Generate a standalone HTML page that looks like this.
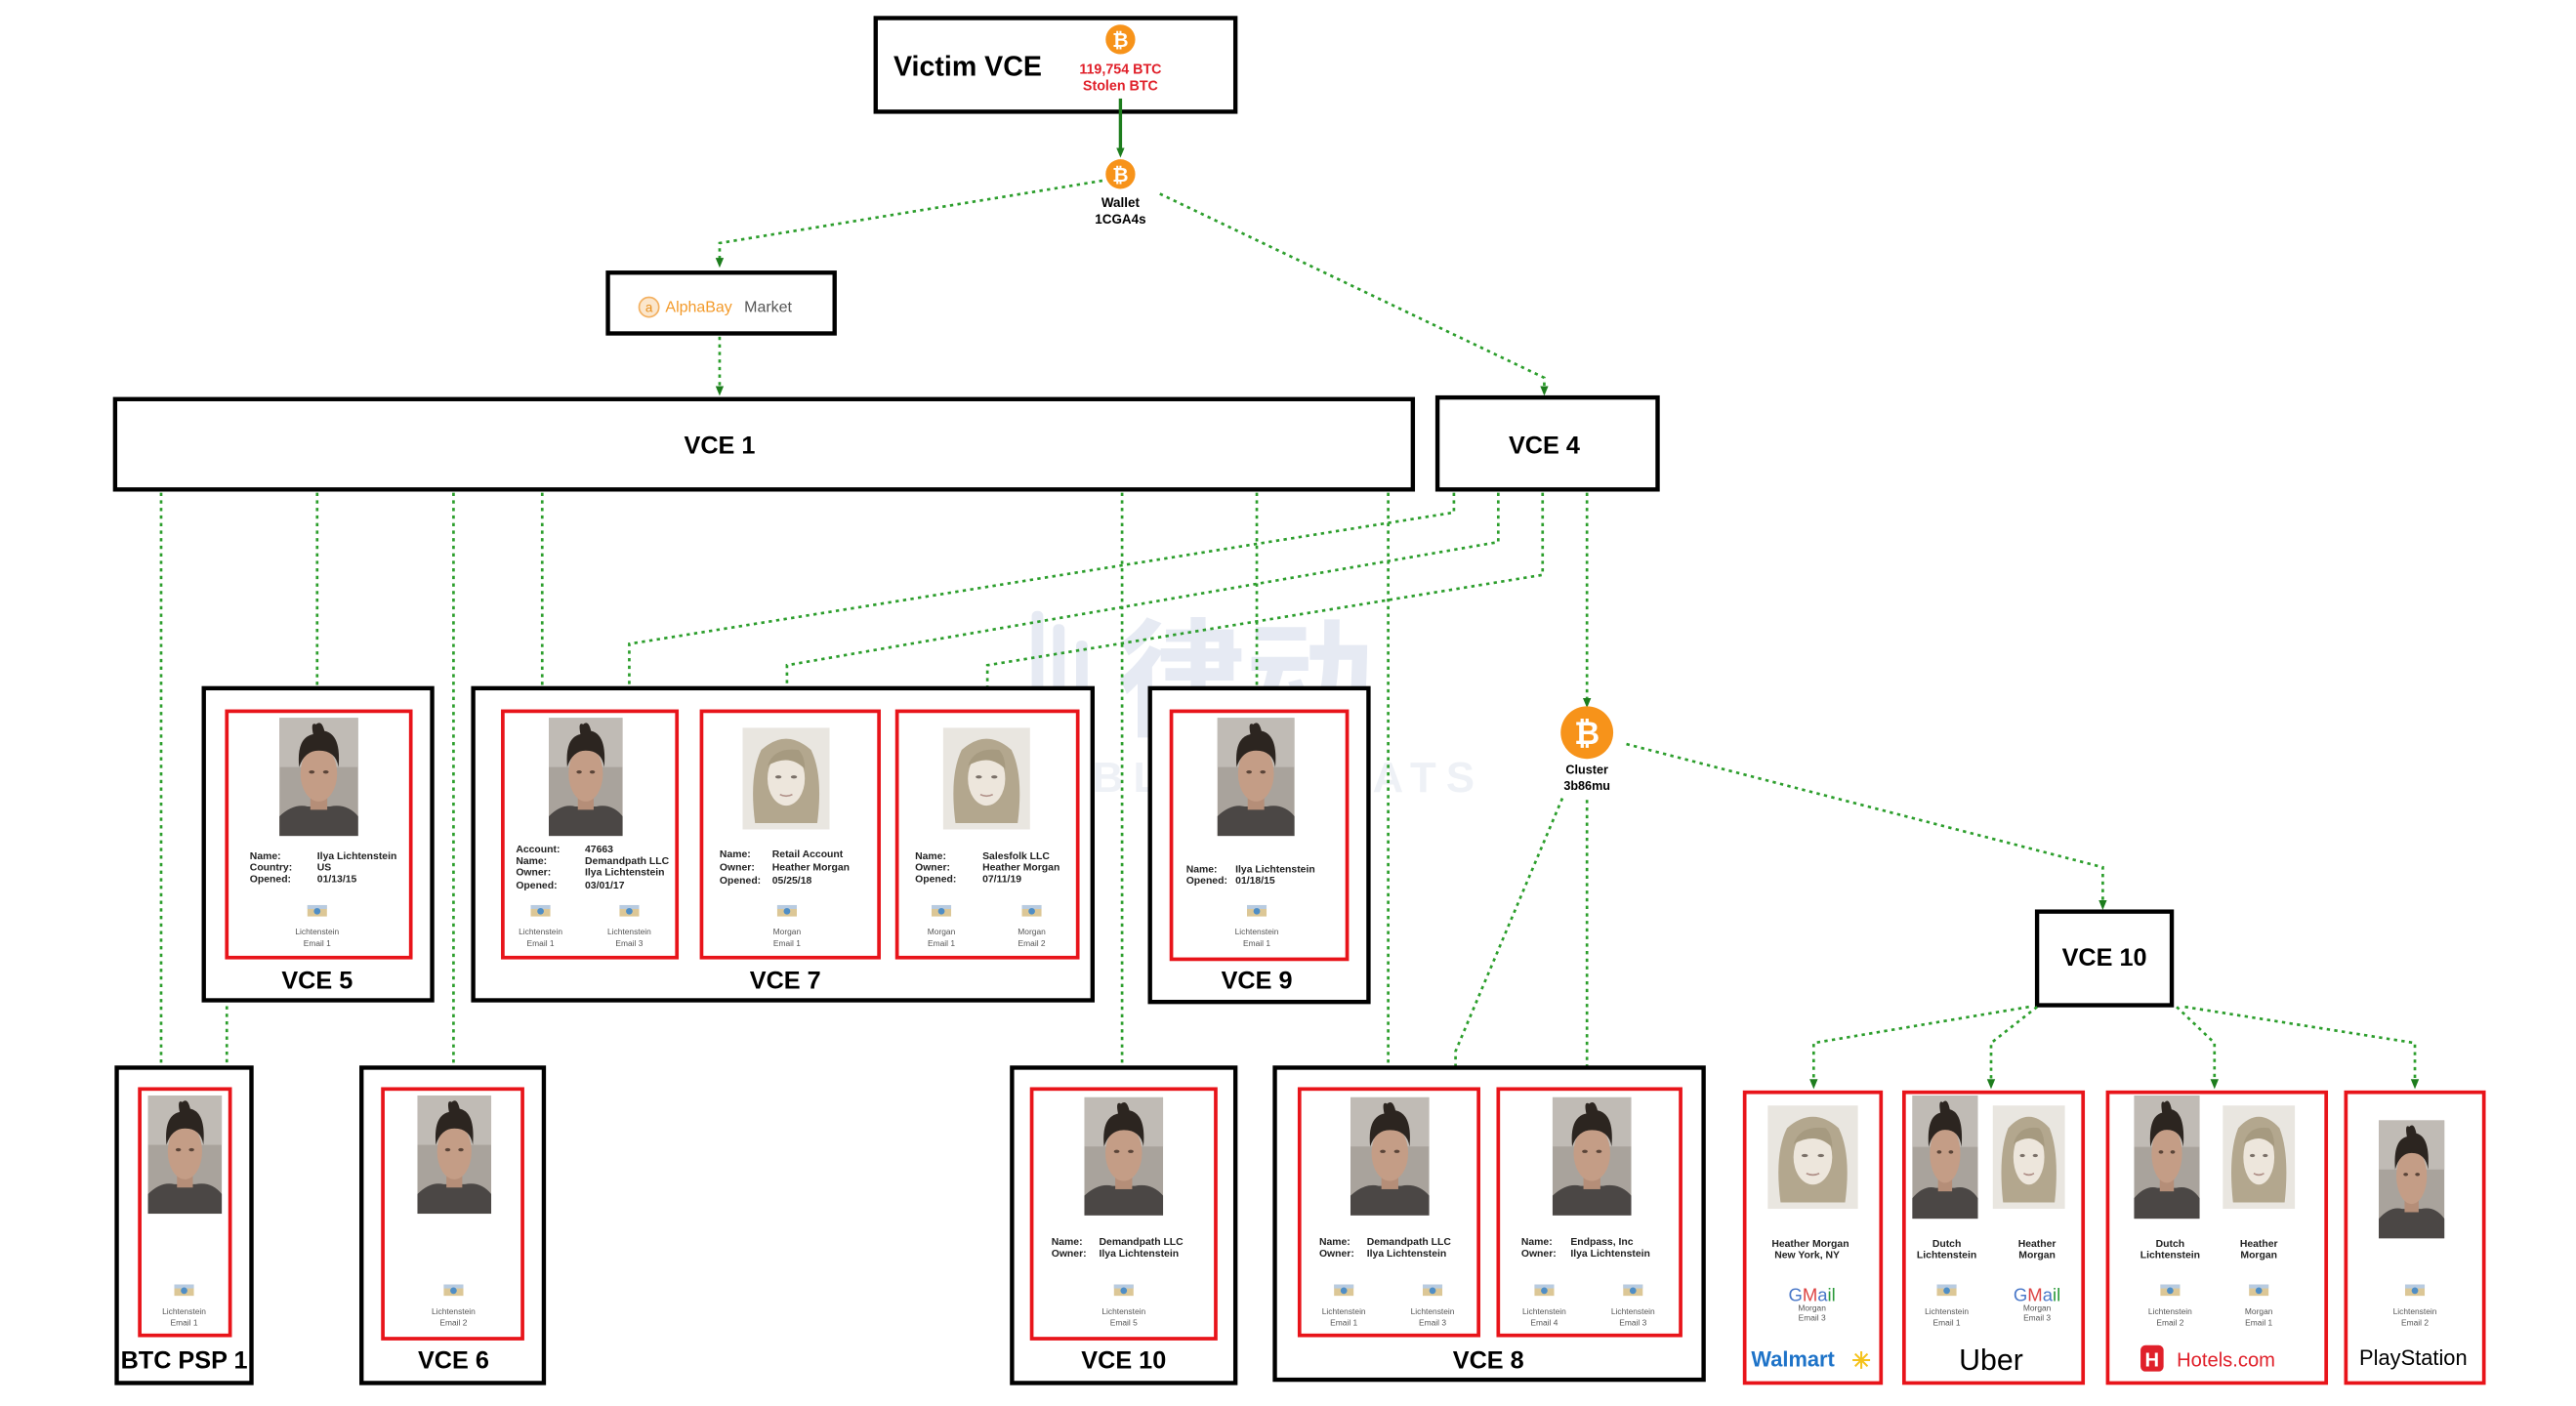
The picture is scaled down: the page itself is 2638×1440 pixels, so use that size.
<!DOCTYPE html>
<html><head><meta charset="utf-8"><style>
html,body{margin:0;padding:0;background:#fff;}
svg{display:block;}
text{font-family:"Liberation Sans","Noto Sans CJK SC",sans-serif;}
.b{font-weight:bold;}
.s{font-size:6.2px;fill:#222;font-weight:bold;}
.e{font-size:5px;fill:#555;}
.lab{font-size:15px;font-weight:bold;fill:#000;text-anchor:middle;}
.d{fill:none;stroke:#2c9e2c;stroke-width:1.6;stroke-dasharray:2 2.6;}
.ob{fill:#fff;stroke:#000;stroke-width:2.6;}
.rc{fill:#fff;stroke:#e8141a;stroke-width:2.2;}
</style></head><body>
<svg width="2638" height="1440" viewBox="0 0 1568 856" xmlns="http://www.w3.org/2000/svg">
<defs>
<marker id="ar" markerWidth="6" markerHeight="6" refX="3" refY="3" orient="auto" markerUnits="userSpaceOnUse"><path d="M0,0.5 L6,3 L0,5.5z" fill="#1d7d1d"/></marker>
<symbol id="man" viewBox="0 0 56 72" preserveAspectRatio="none">
<rect width="56" height="72" fill="#a9a39c"/>
<rect width="56" height="30" fill="#c0bbb5"/>
<path d="M0,72 L0,60 Q10,52 20,54 L36,54 Q48,52 56,60 L56,72z" fill="#4b4745"/>
<rect x="22" y="44" width="12" height="12" fill="#b58e78"/>
<ellipse cx="28" cy="34" rx="13" ry="17" fill="#c49d86"/>
<path d="M14,30 Q12,12 24,10 Q22,2 26,4 Q30,1 32,8 Q44,10 42,30 Q40,20 28,20 Q18,20 14,30z" fill="#2c2520"/>
<ellipse cx="23" cy="33" rx="2" ry="1" fill="#5a4438"/><ellipse cx="33" cy="33" rx="2" ry="1" fill="#5a4438"/>
</symbol>
<symbol id="wom" viewBox="0 0 56 64" preserveAspectRatio="none">
<rect width="56" height="64" fill="#e9e6e0"/>
<path d="M8,60 Q4,30 12,14 Q28,0 44,14 Q52,30 48,60z" fill="#b3a78e"/>
<ellipse cx="28" cy="32" rx="12" ry="17" fill="#ede6dc"/>
<path d="M16,24 Q20,12 36,14 Q40,18 40,26 Q30,16 16,24z" fill="#a69a80"/>
<ellipse cx="23" cy="31" rx="2" ry="1" fill="#7a7068"/><ellipse cx="33" cy="31" rx="2" ry="1" fill="#7a7068"/>
<path d="M24,42 Q28,44 32,42" stroke="#b09088" fill="none" stroke-width="1"/>
</symbol>
<symbol id="em" viewBox="0 0 12 7"><rect width="12" height="7" fill="#dcc796"/><rect x="0" y="0" width="12" height="2.4" fill="#b8cbe0"/><circle cx="6" cy="3.8" r="2" fill="#4f8ec6"/></symbol>
</defs>

<g fill="#e6eaf3">
<rect x="628" y="372" width="7" height="60" rx="3"/><rect x="641" y="380" width="7" height="52" rx="3"/><rect x="655" y="390" width="7" height="42" rx="3"/>
<text x="680" y="442" font-size="78" font-weight="bold" fill="#e6eaf3">律动</text>
<text x="665" y="482" font-size="26" font-weight="bold" fill="#eef1f6" letter-spacing="6">BLOCKBEATS</text>
</g>

<rect x="533" y="11" width="219" height="57" class="ob" stroke-width="3"/>
<text x="589" y="46" font-size="17" class="b" text-anchor="middle">Victim VCE</text>
<circle cx="682" cy="24" r="9" fill="#f7931a"/><text x="682" y="28.5" font-size="12" fill="#fff" class="b" text-anchor="middle">₿</text>
<text x="682" y="45" font-size="8.5" fill="#e0202a" class="b" text-anchor="middle">119,754 BTC</text>
<text x="682" y="55" font-size="8.5" fill="#e0202a" class="b" text-anchor="middle">Stolen BTC</text>
<line x1="682" y1="60" x2="682" y2="93" stroke="#1d7d1d" stroke-width="2" marker-end="url(#ar)"/>
<circle cx="682" cy="106" r="9" fill="#f7931a"/><text x="682" y="110.5" font-size="12" fill="#fff" class="b" text-anchor="middle">₿</text>
<text x="682" y="126" font-size="8" class="b" text-anchor="middle">Wallet</text>
<text x="682" y="136" font-size="8" class="b" text-anchor="middle">1CGA4s</text>

<polyline points="671,110 438,148 438,160" class="d" marker-end="url(#ar)"/>
<polyline points="706,118 940,230 940,238" class="d" marker-end="url(#ar)"/>

<rect x="370" y="166" width="138" height="37" class="ob"/>
<circle cx="395" cy="187" r="6" fill="#fbe6cc" stroke="#f3b060" stroke-width="1"/><text x="395" y="190" font-size="8" fill="#e8901e" text-anchor="middle">a</text>
<text x="405" y="190" font-size="9.5" fill="#f39a2a">AlphaBay</text><text x="453" y="190" font-size="9.5" fill="#555">Market</text>
<line x1="438" y1="205" x2="438" y2="238" class="d" marker-end="url(#ar)"/>

<rect x="70" y="243" width="790" height="55" class="ob" stroke-width="3"/>
<text x="438" y="276" class="lab">VCE 1</text>
<rect x="875" y="242" width="134" height="56" class="ob" stroke-width="3"/>
<text x="940" y="276" class="lab">VCE 4</text>

<line x1="98" y1="300" x2="98" y2="660" class="d" marker-end="url(#ar)"/>
<line x1="193" y1="300" x2="193" y2="430" class="d" marker-end="url(#ar)"/>
<line x1="276" y1="300" x2="276" y2="660" class="d" marker-end="url(#ar)"/>
<line x1="330" y1="300" x2="330" y2="430" class="d" marker-end="url(#ar)"/>
<line x1="683" y1="300" x2="683" y2="660" class="d" marker-end="url(#ar)"/>
<line x1="765" y1="300" x2="765" y2="430" class="d" marker-end="url(#ar)"/>
<line x1="845" y1="300" x2="845" y2="660" class="d" marker-end="url(#ar)"/>
<line x1="138" y1="585" x2="138" y2="660" class="d" marker-end="url(#ar)"/>

<polyline points="885,300 885,312 383,392 383,430" class="d" marker-end="url(#ar)"/>
<polyline points="912,300 912,330 479,405 479,430" class="d" marker-end="url(#ar)"/>
<polyline points="939,300 939,350 601,405 601,430" class="d" marker-end="url(#ar)"/>
<line x1="966" y1="300" x2="966" y2="428" class="d" marker-end="url(#ar)"/>

<circle cx="966" cy="446" r="16" fill="#f7931a"/><text x="966" y="453" font-size="19" fill="#fff" class="b" text-anchor="middle">₿</text>
<text x="966" y="471" font-size="7.5" class="b" text-anchor="middle">Cluster</text>
<text x="966" y="481" font-size="7.5" class="b" text-anchor="middle">3b86mu</text>
<polyline points="990,453 1280,528 1280,551" class="d" marker-end="url(#ar)"/>
<polyline points="951,486 886,640 886,660" class="d" marker-end="url(#ar)"/>
<line x1="966" y1="487" x2="966" y2="660" class="d" marker-end="url(#ar)"/>

<rect x="1240" y="555" width="82" height="57" class="ob" stroke-width="3"/>
<text x="1281" y="588" class="lab">VCE 10</text>
<polyline points="1235,613 1104,635 1104,660" class="d" marker-end="url(#ar)"/>
<polyline points="1240,613 1212,635 1212,660" class="d" marker-end="url(#ar)"/>
<polyline points="1325,613 1348,635 1348,660" class="d" marker-end="url(#ar)"/>
<polyline points="1330,613 1470,635 1470,660" class="d" marker-end="url(#ar)"/>

<rect x="124" y="419" width="139" height="190" class="ob"/>
<rect x="138" y="433" width="112" height="150" class="rc"/>
<use href="#man" x="170" y="437" width="48" height="72"/>
<text class="s" x="152" y="523">Name:</text><text class="s" x="193" y="523">Ilya Lichtenstein</text>
<text class="s" x="152" y="530">Country:</text><text class="s" x="193" y="530">US</text>
<text class="s" x="152" y="537">Opened:</text><text class="s" x="193" y="537">01/13/15</text>
<use href="#em" x="187" y="551" width="12" height="7"/>
<text class="e" x="193" y="569" text-anchor="middle">Lichtenstein</text><text class="e" x="193" y="576" text-anchor="middle">Email 1</text>
<text x="193" y="602" class="lab">VCE 5</text>

<rect x="288" y="419" width="377" height="190" class="ob"/>
<rect x="306" y="433" width="106" height="150" class="rc"/>
<use href="#man" x="334" y="437" width="45" height="72"/>
<text class="s" x="314" y="519">Account:</text><text class="s" x="356" y="519">47663</text>
<text class="s" x="314" y="526">Name:</text><text class="s" x="356" y="526">Demandpath LLC</text>
<text class="s" x="314" y="533">Owner:</text><text class="s" x="356" y="533">Ilya Lichtenstein</text>
<text class="s" x="314" y="541">Opened:</text><text class="s" x="356" y="541">03/01/17</text>
<use href="#em" x="323" y="551" width="12" height="7"/><use href="#em" x="377" y="551" width="12" height="7"/>
<text class="e" x="329" y="569" text-anchor="middle">Lichtenstein</text><text class="e" x="329" y="576" text-anchor="middle">Email 1</text>
<text class="e" x="383" y="569" text-anchor="middle">Lichtenstein</text><text class="e" x="383" y="576" text-anchor="middle">Email 3</text>
<rect x="427" y="433" width="108" height="150" class="rc"/>
<use href="#wom" x="452" y="443" width="53" height="62"/>
<text class="s" x="438" y="522">Name:</text><text class="s" x="470" y="522">Retail Account</text>
<text class="s" x="438" y="530">Owner:</text><text class="s" x="470" y="530">Heather Morgan</text>
<text class="s" x="438" y="538">Opened:</text><text class="s" x="470" y="538">05/25/18</text>
<use href="#em" x="473" y="551" width="12" height="7"/>
<text class="e" x="479" y="569" text-anchor="middle">Morgan</text><text class="e" x="479" y="576" text-anchor="middle">Email 1</text>
<rect x="546" y="433" width="110" height="150" class="rc"/>
<use href="#wom" x="574" y="443" width="53" height="62"/>
<text class="s" x="557" y="523">Name:</text><text class="s" x="598" y="523">Salesfolk LLC</text>
<text class="s" x="557" y="530">Owner:</text><text class="s" x="598" y="530">Heather Morgan</text>
<text class="s" x="557" y="537">Opened:</text><text class="s" x="598" y="537">07/11/19</text>
<use href="#em" x="567" y="551" width="12" height="7"/><use href="#em" x="622" y="551" width="12" height="7"/>
<text class="e" x="573" y="569" text-anchor="middle">Morgan</text><text class="e" x="573" y="576" text-anchor="middle">Email 1</text>
<text class="e" x="628" y="569" text-anchor="middle">Morgan</text><text class="e" x="628" y="576" text-anchor="middle">Email 2</text>
<text x="478" y="602" class="lab">VCE 7</text>

<rect x="700" y="419" width="133" height="191" class="ob"/>
<rect x="713" y="433" width="107" height="151" class="rc"/>
<use href="#man" x="741" y="437" width="47" height="72"/>
<text class="s" x="722" y="531">Name:</text><text class="s" x="752" y="531">Ilya Lichtenstein</text>
<text class="s" x="722" y="538">Opened:</text><text class="s" x="752" y="538">01/18/15</text>
<use href="#em" x="759" y="551" width="12" height="7"/>
<text class="e" x="765" y="569" text-anchor="middle">Lichtenstein</text><text class="e" x="765" y="576" text-anchor="middle">Email 1</text>
<text x="765" y="602" class="lab">VCE 9</text>

<rect x="71" y="650" width="82" height="192" class="ob"/>
<rect x="85" y="663" width="55" height="150" class="rc"/>
<use href="#man" x="90" y="667" width="45" height="72"/>
<use href="#em" x="106" y="782" width="12" height="7"/>
<text class="e" x="112" y="800" text-anchor="middle">Lichtenstein</text><text class="e" x="112" y="807" text-anchor="middle">Email 1</text>
<text x="112" y="833" class="lab" font-size="13">BTC PSP 1</text>

<rect x="220" y="650" width="111" height="192" class="ob"/>
<rect x="233" y="663" width="85" height="152" class="rc"/>
<use href="#man" x="254" y="667" width="45" height="72"/>
<use href="#em" x="270" y="782" width="12" height="7"/>
<text class="e" x="276" y="800" text-anchor="middle">Lichtenstein</text><text class="e" x="276" y="807" text-anchor="middle">Email 2</text>
<text x="276" y="833" class="lab">VCE 6</text>

<rect x="616" y="650" width="136" height="192" class="ob"/>
<rect x="628" y="663" width="112" height="152" class="rc"/>
<use href="#man" x="660" y="668" width="48" height="72"/>
<text class="s" x="640" y="758">Name:</text><text class="s" x="669" y="758">Demandpath LLC</text>
<text class="s" x="640" y="765">Owner:</text><text class="s" x="669" y="765">Ilya Lichtenstein</text>
<use href="#em" x="678" y="782" width="12" height="7"/>
<text class="e" x="684" y="800" text-anchor="middle">Lichtenstein</text><text class="e" x="684" y="807" text-anchor="middle">Email 5</text>
<text x="684" y="833" class="lab">VCE 10</text>

<rect x="776" y="650" width="261" height="190" class="ob"/>
<rect x="791" y="663" width="109" height="150" class="rc"/>
<use href="#man" x="822" y="668" width="48" height="72"/>
<text class="s" x="803" y="758">Name:</text><text class="s" x="832" y="758">Demandpath LLC</text>
<text class="s" x="803" y="765">Owner:</text><text class="s" x="832" y="765">Ilya Lichtenstein</text>
<use href="#em" x="812" y="782" width="12" height="7"/><use href="#em" x="866" y="782" width="12" height="7"/>
<text class="e" x="818" y="800" text-anchor="middle">Lichtenstein</text><text class="e" x="818" y="807" text-anchor="middle">Email 1</text>
<text class="e" x="872" y="800" text-anchor="middle">Lichtenstein</text><text class="e" x="872" y="807" text-anchor="middle">Email 3</text>
<rect x="912" y="663" width="111" height="150" class="rc"/>
<use href="#man" x="945" y="668" width="48" height="72"/>
<text class="s" x="926" y="758">Name:</text><text class="s" x="956" y="758">Endpass, Inc</text>
<text class="s" x="926" y="765">Owner:</text><text class="s" x="956" y="765">Ilya Lichtenstein</text>
<use href="#em" x="934" y="782" width="12" height="7"/><use href="#em" x="988" y="782" width="12" height="7"/>
<text class="e" x="940" y="800" text-anchor="middle">Lichtenstein</text><text class="e" x="940" y="807" text-anchor="middle">Email 4</text>
<text class="e" x="994" y="800" text-anchor="middle">Lichtenstein</text><text class="e" x="994" y="807" text-anchor="middle">Email 3</text>
<text x="906" y="833" class="lab">VCE 8</text>

<rect x="1062" y="665" width="83" height="177" class="rc"/>
<use href="#wom" x="1076" y="673" width="55" height="63"/>
<text class="s" x="1102" y="759" text-anchor="middle">Heather Morgan</text>
<text class="s" x="1100" y="766" text-anchor="middle">New York, NY</text>
<text x="1103" y="792" font-size="11" text-anchor="middle"><tspan fill="#4a78c8">G</tspan><tspan fill="#d44">M</tspan><tspan fill="#4a78c8">a</tspan><tspan fill="#2a9a3a">il</tspan></text>
<text class="e" x="1103" y="798" text-anchor="middle">Morgan</text><text class="e" x="1103" y="804" text-anchor="middle">Email 3</text>
<text x="1066" y="832" font-size="13" class="b" fill="#1e73c8">Walmart</text>
<text x="1133" y="833" font-size="14" class="b" fill="#f5c21a" text-anchor="middle">✳</text>

<rect x="1159" y="665" width="109" height="177" class="rc"/>
<use href="#man" x="1164" y="667" width="40" height="75"/>
<use href="#wom" x="1213" y="673" width="44" height="63"/>
<text class="s" x="1185" y="759" text-anchor="middle">Dutch</text><text class="s" x="1185" y="766" text-anchor="middle">Lichtenstein</text>
<text class="s" x="1240" y="759" text-anchor="middle">Heather</text><text class="s" x="1240" y="766" text-anchor="middle">Morgan</text>
<use href="#em" x="1179" y="782" width="12" height="7"/>
<text class="e" x="1185" y="800" text-anchor="middle">Lichtenstein</text><text class="e" x="1185" y="807" text-anchor="middle">Email 1</text>
<text x="1240" y="792" font-size="11" text-anchor="middle"><tspan fill="#4a78c8">G</tspan><tspan fill="#d44">M</tspan><tspan fill="#4a78c8">a</tspan><tspan fill="#2a9a3a">il</tspan></text>
<text class="e" x="1240" y="798" text-anchor="middle">Morgan</text><text class="e" x="1240" y="804" text-anchor="middle">Email 3</text>
<text x="1212" y="834" font-size="18" fill="#000" text-anchor="middle">Uber</text>

<rect x="1283" y="665" width="133" height="177" class="rc"/>
<use href="#man" x="1299" y="667" width="40" height="75"/>
<use href="#wom" x="1353" y="673" width="44" height="63"/>
<text class="s" x="1321" y="759" text-anchor="middle">Dutch</text><text class="s" x="1321" y="766" text-anchor="middle">Lichtenstein</text>
<text class="s" x="1375" y="759" text-anchor="middle">Heather</text><text class="s" x="1375" y="766" text-anchor="middle">Morgan</text>
<use href="#em" x="1315" y="782" width="12" height="7"/><use href="#em" x="1369" y="782" width="12" height="7"/>
<text class="e" x="1321" y="800" text-anchor="middle">Lichtenstein</text><text class="e" x="1321" y="807" text-anchor="middle">Email 2</text>
<text class="e" x="1375" y="800" text-anchor="middle">Morgan</text><text class="e" x="1375" y="807" text-anchor="middle">Email 1</text>
<rect x="1303" y="819" width="14" height="16" rx="3" fill="#e0202a"/><text x="1310" y="832" font-size="12" class="b" fill="#fff" text-anchor="middle">H</text>
<text x="1325" y="832" font-size="12" fill="#e0202a">Hotels.com</text>

<rect x="1428" y="665" width="84" height="177" class="rc"/>
<use href="#man" x="1448" y="682" width="40" height="72"/>
<use href="#em" x="1464" y="782" width="12" height="7"/>
<text class="e" x="1470" y="800" text-anchor="middle">Lichtenstein</text><text class="e" x="1470" y="807" text-anchor="middle">Email 2</text>
<text x="1469" y="831" font-size="13" fill="#000" text-anchor="middle">PlayStation</text>
</svg>
</body></html>
